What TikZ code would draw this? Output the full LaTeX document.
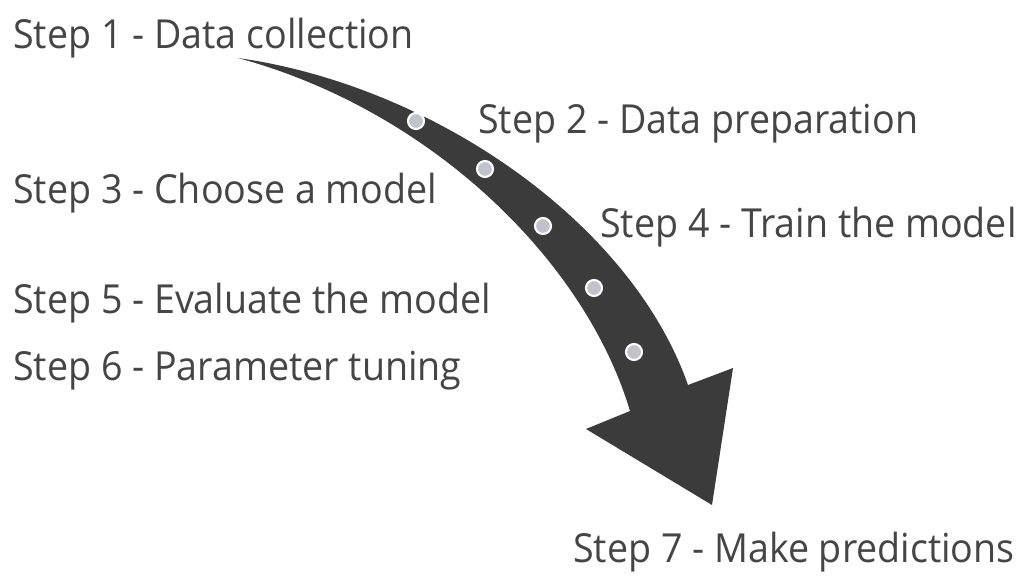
\documentclass[tikz,border=0pt]{standalone}
\usepackage{fontspec}
\setmainfont{Open Sans}[FakeStretch=0.94]
\definecolor{arrowgray}{HTML}{3B3B3B}
\definecolor{textgray}{HTML}{454545}
\definecolor{dotgray}{HTML}{C0C3CB}
\tikzset{
  steplabel/.style={anchor=base west, inner sep=0pt, text=textgray, font=\fontsize{30}{36}\selectfont},
  stepdot/.style={circle, fill=dotgray, draw=white, line width=1.6pt, minimum size=12pt, inner sep=0pt}
}
\begin{document}
\begin{tikzpicture}[x=0.75pt,y=-0.75pt]
\useasboundingbox (0,0) rectangle (1035,579);
\fill[white] (0,0) rectangle (1035,579);
% curved arrow
\fill[arrowgray] (238,58) .. controls (430,85) and (630,220) .. (688,385)
  -- (733,368) -- (712,505) -- (586,429) -- (630,411)
  .. controls (585,260) and (430,110) .. (238,58) -- cycle;
% dots
\node[stepdot] (d1) at (416,121) {};
\node[stepdot] (d2) at (485,169) {};
\node[stepdot] (d3) at (543,226) {};
\node[stepdot] (d4) at (594,288) {};
\node[stepdot] (d5) at (634,352) {};
% labels
\node[steplabel] (s1) at (13,48) {Step 1 - Data collection};
\node[steplabel] (s2) at (478,133) {Step 2 - Data preparation};
\node[steplabel] (s3) at (13,203) {Step 3 - Choose a model};
\node[steplabel] (s4) at (600,237) {Step 4 - Train the model};
\node[steplabel] (s5) at (13,313) {Step 5 - Evaluate the model};
\node[steplabel] (s6) at (13,380) {Step 6 - Parameter tuning};
\node[steplabel] (s7) at (573,562) {Step 7 - Make predictions};
\end{tikzpicture}
\end{document}
